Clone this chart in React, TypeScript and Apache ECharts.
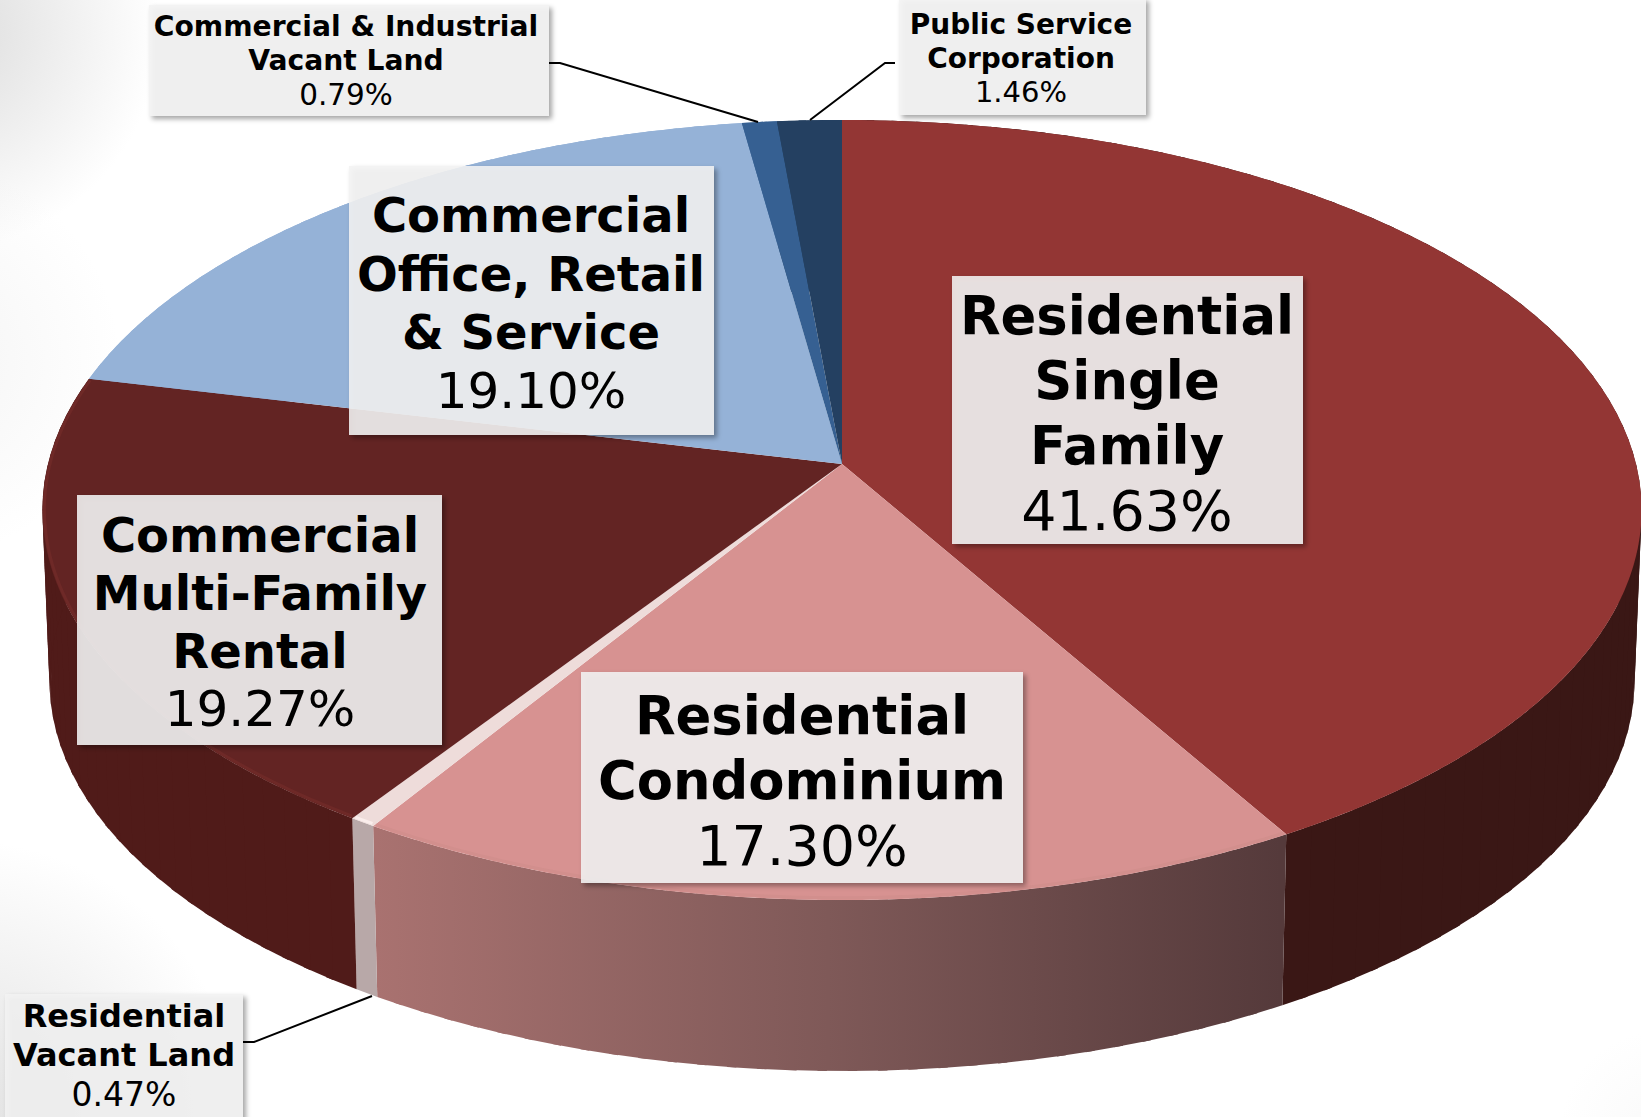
import React, { useEffect, useRef } from "react";
import * as echarts from "echarts";

// ---- data (clockwise from 12 o'clock) ----
const categories = [
  "Residential\nSingle\nFamily",
  "Residential\nCondominium",
  "Residential\nVacant Land",
  "Commercial\nMulti-Family\nRental",
  "Commercial\nOffice, Retail\n& Service",
  "Commercial & Industrial\nVacant Land",
  "Public Service\nCorporation",
];
const values = [41.63, 17.3, 0.47, 19.27, 19.1, 0.79, 1.46];

// ---- styles ----
const topColors = ["#933634", "#d79291", "#eedcda", "#632423", "#95b2d7", "#366092", "#244061"];
const rimColors = ["#933634", "#d28f8d", "#fbeeec", "#6e2927", "#95b2d7", "#366092", "#244061"];
const wallColors: any[] = [
  "#3a1715",
  { type: "linear", x: 376, y: 0, x2: 1280, y2: 0, global: true, colorStops: [
    { offset: 0, color: "#a97270" }, { offset: 0.5, color: "#7f5958" }, { offset: 1, color: "#553a3b" } ] },
  "#b8a8a8",
  "#501b19",
  "#95b2d7",
  "#366092",
  "#244061",
];

// ---- projection of the tilted disc ----
const CX = 842;
const TOP = { A: 794, B: 384.6, y0: 464 };
const BOTTOM = { A: 787, B: 384.6, y0: 635 };
const P = 0.118;
const project = (deg: number, g: { A: number; B: number; y0: number }) => {
  const t = (deg * Math.PI) / 180;
  const X = Math.sin(t);
  const Y = Math.cos(t);
  const w = 1 + P * Y;
  return [CX + (g.A * X) / w, g.y0 - (g.B * Y) / w];
};
const arc = (a: number, b: number, g: any) => {
  const n = Math.max(2, Math.ceil(Math.abs(b - a) / 0.5));
  const pts: number[][] = [];
  for (let i = 0; i <= n; i++) pts.push(project(a + ((b - a) * i) / n, g));
  return pts;
};
const total = values.reduce((s, v) => s + v, 0);
const span = (i: number) => {
  let before = 0;
  for (let k = 0; k < i; k++) before += values[k];
  return [(before / total) * 360, ((before + values[i]) / total) * 360];
};

// ---- label layout: box x, y, w, h, centre x, first line y, line step, bold size, value size ----
const labelLayout = [
  { box: [952, 276, 351, 268], cx: 1127, y: 315, step: 65, size: 52.8, vsize: 55.5 },
  { box: [581, 672, 442, 211], cx: 802, y: 715, step: 65, size: 52.8, vsize: 55.5 },
  { box: [5, 994, 238, 125], cx: 124, y: 1016, step: 39, size: 32, vsize: 33 },
  { box: [77, 495, 365, 250], cx: 260, y: 535, step: 58, size: 48, vsize: 50 },
  { box: [349, 166, 365, 269], cx: 531, y: 215, step: 58.5, size: 48, vsize: 50 },
  { box: [149, 5, 400, 111], cx: 346, y: 26, step: 34.5, size: 28.2, vsize: 29.5 },
  { box: [899, -2, 247, 117], cx: 1021, y: 24, step: 34, size: 28, vsize: 29 },
];
const leaders: Record<number, number[][]> = {
  2: [[243, 1042], [254, 1042], [372, 996]],
  5: [[549, 63], [560, 63], [758, 122]],
  6: [[895, 63], [885, 63], [810, 120]],
};
const FONT = '"DejaVu Sans", Verdana, sans-serif';

const seriesData = values.map((v) => [v]);

// The wall is swept in narrow overlapping strips, so that the outline follows the
// straight tangent between the upper and the lower rim at both sides of the disc.
const renderWall = (params: any) => {
  const [a, b] = span(params.dataIndex);
  const fill = wallColors[params.dataIndex];
  const n = Math.max(1, Math.ceil((b - a) / 2));
  const children: any[] = [];
  for (let k = 0; k < n; k++) {
    const s = a + ((b - a) * k) / n;
    const e = Math.min(b, a + ((b - a) * (k + 1)) / n + 0.6);
    children.push({
      type: "polygon",
      shape: { points: [project(s, TOP), project(e, TOP), project(e, BOTTOM), project(s, BOTTOM)] },
      style: { fill },
    });
  }
  return { type: "group", children };
};

const renderTop = (params: any) => {
  const i = params.dataIndex;
  const [a, b] = span(i);
  const pivot = [CX, TOP.y0];
  const children: any[] = [
    { type: "polygon", shape: { points: [pivot, ...arc(a, b, TOP)] }, style: { fill: topColors[i] } },
  ];
  if (rimColors[i] !== topColors[i]) {
    const inner = { A: TOP.A - 2, B: TOP.B - 2, y0: TOP.y0 };
    children.push({
      type: "polyline",
      shape: { points: arc(a + 0.15, b - 0.15, inner) },
      style: { fill: "none", stroke: rimColors[i], lineWidth: 3 },
    });
  }
  return { type: "group", children };
};

const renderLabel = (params: any) => {
  const i = params.dataIndex;
  const l = labelLayout[i];
  const children: any[] = [];
  if (leaders[i]) {
    children.push({
      type: "polyline",
      shape: { points: leaders[i] },
      style: { fill: "none", stroke: "#000", lineWidth: 2 },
    });
  }
  children.push({
    type: "rect",
    shape: { x: l.box[0], y: l.box[1], width: l.box[2], height: l.box[3] },
    style: {
      fill: "rgba(242,242,242,0.88)",
      shadowBlur: 5,
      shadowOffsetX: 3,
      shadowOffsetY: 3,
      shadowColor: "rgba(0,0,0,0.4)",
    },
  });
  const lines = categories[i].split("\n");
  lines.forEach((line, k) => {
    children.push({
      type: "text",
      style: {
        text: line,
        x: l.cx,
        y: l.y + k * l.step,
        fill: "#000",
        font: `bold ${l.size}px ${FONT}`,
        textAlign: "center",
        textVerticalAlign: "middle",
      },
    });
  });
  children.push({
    type: "text",
    style: {
      text: `${values[i].toFixed(2)}%`,
      x: l.cx,
      y: l.y + lines.length * l.step,
      fill: "#000",
      font: `${l.vsize}px ${FONT}`,
      textAlign: "center",
      textVerticalAlign: "middle",
    },
  });
  return { type: "group", children };
};

const vignette = (cx: number, cy: number, r: number, alpha: number) => ({
  type: "circle",
  z: 0,
  silent: true,
  shape: { cx, cy, r },
  style: {
    fill: {
      type: "radial",
      x: 0.5,
      y: 0.5,
      r: 0.5,
      colorStops: [
        { offset: 0, color: `rgba(200,200,200,${alpha})` },
        { offset: 1, color: "rgba(200,200,200,0)" },
      ],
    },
  },
});

export default function App() {
  const ref = useRef<HTMLDivElement>(null);
  useEffect(() => {
    const chart = echarts.init(ref.current!, null, { renderer: "svg" });
    chart.setOption({
      animation: false,
      backgroundColor: "#ffffff",
      graphic: [
        vignette(-60, 30, 220, 0.65),
        vignette(-80, 360, 200, 0.2),
        vignette(-40, 1120, 280, 0.55),
        vignette(1660, 1130, 100, 0.1),
      ],
      series: [
        { type: "custom", coordinateSystem: "none", z: 3, silent: true, data: seriesData, renderItem: renderWall },
        { type: "custom", coordinateSystem: "none", z: 4, silent: true, data: seriesData, renderItem: renderTop },
        { type: "custom", coordinateSystem: "none", z: 5, silent: true, data: seriesData, renderItem: renderLabel },
      ],
    });
    return () => chart.dispose();
  }, []);
  return (
    <div
      ref={ref}
      style={{ position: "fixed", left: 0, top: 0, width: 1641, height: 1117, overflow: "hidden" }}
    />
  );
}
